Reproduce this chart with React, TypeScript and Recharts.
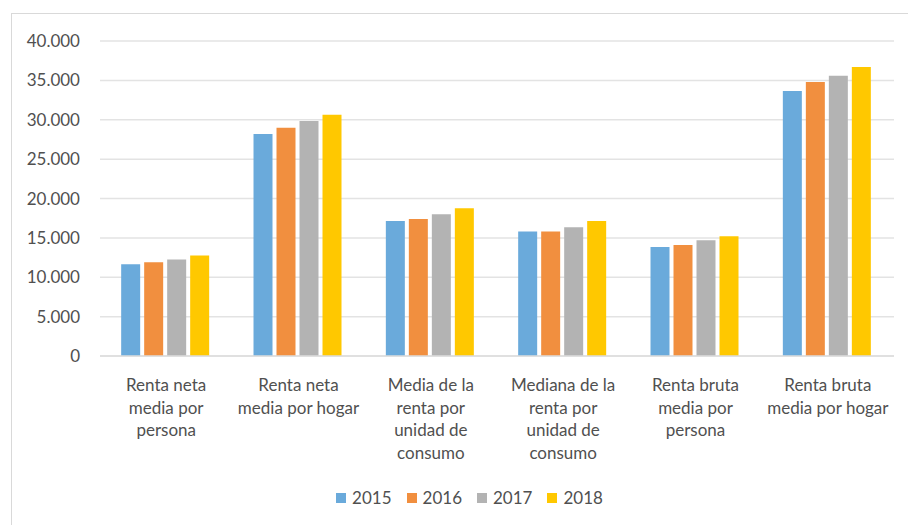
import { BarChart, Bar, XAxis, YAxis, CartesianGrid, Legend } from "recharts";

const CATEGORIES = [
  "Renta neta\nmedia por\npersona",
  "Renta neta\nmedia por hogar",
  "Media de la\nrenta por\nunidad de\nconsumo",
  "Mediana de la\nrenta por\nunidad de\nconsumo",
  "Renta bruta\nmedia por\npersona",
  "Renta bruta\nmedia por hogar",
];

const Y2015 = [11650, 28200, 17150, 15800, 13850, 33650];
const Y2016 = [11900, 29000, 17400, 15800, 14100, 34800];
const Y2017 = [12250, 29850, 18000, 16350, 14700, 35600];
const Y2018 = [12750, 30650, 18750, 17150, 15200, 36700];

const Y_TICKS = [0, 5000, 10000, 15000, 20000, 25000, 30000, 35000, 40000];

const SERIES = [
  { key: "2015", color: "#6aaadb" },
  { key: "2016", color: "#f18f3f" },
  { key: "2017", color: "#b3b3b3" },
  { key: "2018", color: "#ffc800" },
];

const FONT = "Lato, 'Open Sans', sans-serif";
const TEXT = "#505050";

const chartData = CATEGORIES.map((name, i) => ({
  name,
  "2015": Y2015[i],
  "2016": Y2016[i],
  "2017": Y2017[i],
  "2018": Y2018[i],
}));

const fmt = (v: number) => String(v).replace(/\B(?=(\d{3})+(?!\d))/g, ".");

function CategoryTick(props: any) {
  const { x, y, payload } = props;
  const lines = String(payload.value).split("\n");
  return (
    <text x={x} y={y + 33} textAnchor="middle" fill={TEXT} fontSize={17} fontFamily={FONT}>
      {lines.map((l, i) => (
        <tspan key={i} x={x} dy={i === 0 ? 0 : 22.6}>
          {l}
        </tspan>
      ))}
    </text>
  );
}

function LegendContent() {
  return (
    <div style={{ display: "flex", justifyContent: "center", fontFamily: FONT, fontSize: 17, color: TEXT }}>
      {SERIES.map((s) => (
        <div key={s.key} style={{ display: "flex", alignItems: "center", marginRight: 15 }}>
          <span style={{ width: 10, height: 10, background: s.color, marginRight: 6, display: "inline-block" }} />
          <span>{s.key}</span>
        </div>
      ))}
    </div>
  );
}

export default function App() {
  return (
    <div style={{ position: "absolute", left: 0, top: 0, width: 908, height: 525, background: "#fff", overflow: "hidden" }}>
      <div
        style={{
          position: "absolute",
          left: 11,
          top: 13,
          width: 920,
          height: 540,
          border: "1px solid #d9d9d9",
        }}
      />
      <BarChart
        width={908}
        height={525}
        data={chartData}
        margin={{ top: 41, right: 14, bottom: 19, left: 0 }}
        barCategoryGap="16%"
        barGap={4}
      >
        <CartesianGrid vertical={false} stroke="#e3e3e3" strokeWidth={1.5} />
        <XAxis
          dataKey="name"
          height={150}
          interval={0}
          tickLine={false}
          tickSize={0}
          axisLine={{ stroke: "#dcdcdc", strokeWidth: 1.5 }}
          tick={<CategoryTick />}
        />
        <YAxis
          width={100}
          domain={[0, 40000]}
          ticks={Y_TICKS}
          interval={0}
          axisLine={false}
          tickLine={false}
          tickSize={0}
          tickMargin={20}
          tickFormatter={fmt}
          tick={{ fontSize: 17, fill: TEXT, fontFamily: FONT }}
        />
        <Legend
          layout="horizontal"
          verticalAlign="middle"
          align="center"
          content={<LegendContent />}
          wrapperStyle={{ top: 487, left: 332, width: 290 }}
        />
        {SERIES.map((s) => (
          <Bar key={s.key} dataKey={s.key} fill={s.color} isAnimationActive={false} />
        ))}
      </BarChart>
    </div>
  );
}
